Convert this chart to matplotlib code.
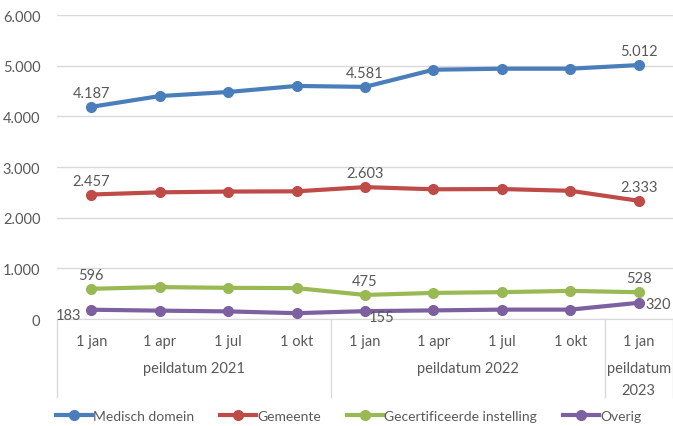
import matplotlib
matplotlib.use("Agg")
import matplotlib.pyplot as plt
import matplotlib.transforms as mtransforms

months = ["1 jan", "1 apr", "1 jul", "1 okt", "1 jan", "1 apr", "1 jul", "1 okt", "1 jan"]
groups = ["peildatum 2021", "peildatum 2022", "peildatum\n2023"]
group_sizes = [4, 4, 1]

medisch = [4187, 4400, 4480, 4600, 4581, 4920, 4940, 4940, 5012]
gemeente = [2457, 2500, 2515, 2520, 2603, 2560, 2565, 2530, 2333]
gecert = [596, 630, 615, 610, 475, 515, 530, 555, 528]
overig = [183, 165, 150, 115, 155, 170, 185, 185, 320]

series_names = ["Medisch domein", "Gemeente", "Gecertificeerde instelling", "Overig"]
colors = ["#4a7ebb", "#be4b48", "#98b954", "#7d60a0"]
label_idx = [0, 4, 8]

plt.rcParams['font.family'] = ['Lato', 'DejaVu Sans']
txt = "#595959"
fs = 10.5

fig = plt.figure(figsize=(6.73, 4.27), dpi=100)
ax = fig.add_axes([57/673, 1-320/427, (673-57)/673, (320-16)/427])

x = list(range(len(months)))
all_series = [medisch, gemeente, gecert, overig]
for vals, name, c in zip(all_series, series_names, colors):
    ax.plot(x, vals, color=c, lw=3, marker='o', ms=7, label=name, zorder=3)

def fmt(v):
    return f"{v:,}".replace(",", ".")

# data labels
for vals, c, si in zip(all_series, colors, range(4)):
    for i in label_idx:
        v = vals[i]
        if si == 3:
            if i == 0:
                ax.annotate(fmt(v), (i, v), xytext=(-7, -4), textcoords='offset points',
                            ha='right', va='center', fontsize=fs, color=txt)
            elif i == 4:
                ax.annotate(fmt(v), (i, v), xytext=(3, -4), textcoords='offset points',
                            ha='left', va='center', fontsize=fs, color=txt)
            else:
                ax.annotate(fmt(v), (i, v), xytext=(5, -1), textcoords='offset points',
                            ha='left', va='center', fontsize=fs, color=txt)
        else:
            ax.annotate(fmt(v), (i, v), xytext=(0, 5), textcoords='offset points',
                        ha='center', va='bottom', fontsize=fs, color=txt)

ax.set_xlim(-0.5, len(months) - 0.5)
ax.set_ylim(0, 6000)
ax.set_yticks(range(0, 6001, 1000))
ax.set_yticklabels([fmt(v) for v in range(0, 6001, 1000)], fontsize=fs, color=txt)
ax.tick_params(axis='y', length=0, pad=12)
ax.grid(axis='y', color='#d9d9d9', lw=1)
ax.set_axisbelow(True)
for s in ['left', 'right', 'top']:
    ax.spines[s].set_visible(False)
ax.spines['bottom'].set_color('#d9d9d9')

ax.set_xticks(x)
ax.set_xticklabels(months, fontsize=fs, color=txt)
ax.tick_params(axis='x', length=0, pad=11)

trans = mtransforms.blended_transform_factory(ax.transData, ax.transAxes)
h = 304.0
bottom = -(398 - 320) / h
bounds = [-0.5]
for g in group_sizes:
    bounds.append(bounds[-1] + g)
for b in bounds:
    ax.plot([b, b], [0, bottom], transform=trans, color='#d9d9d9', lw=1, clip_on=False)
for gi, g in enumerate(groups):
    cx = (bounds[gi] + bounds[gi + 1]) / 2
    ax.text(cx, -(362 - 320) / h, g, transform=trans, ha='center', va='top',
            fontsize=fs, color=txt, linespacing=1.75)

leg = fig.legend(loc='center left', bbox_to_anchor=(56/673, 10/427), ncol=4, frameon=False,
                 fontsize=10, handlelength=2.6, columnspacing=1.9, handletextpad=0.05,
                 labelcolor=txt, borderaxespad=0, borderpad=0)

fig.savefig("out.png", dpi=100)
